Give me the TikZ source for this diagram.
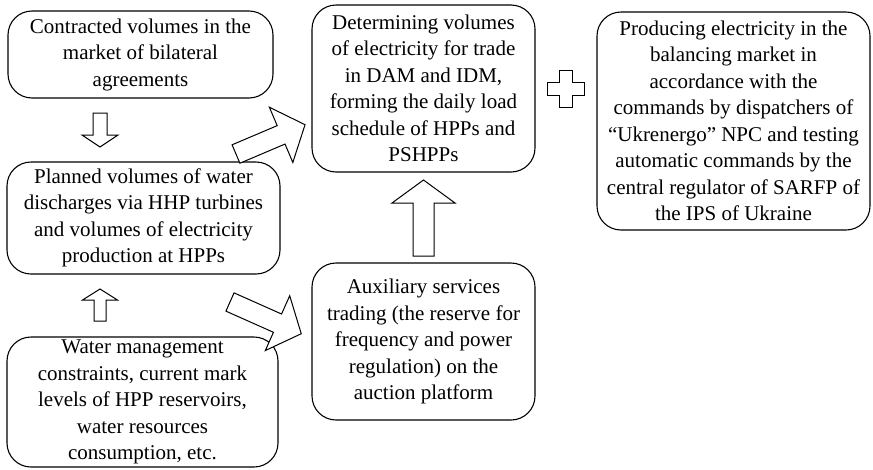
\documentclass[tikz,border=0pt]{standalone}
\usepackage{fontspec}
\setmainfont{Liberation Serif}
\newcommand\blockarr[6]{% tail, angle, length, shaft width, head width, head length
  \begin{scope}[shift={#1},rotate=#2]
    \draw[arrowline] (0,-#4/2) -- (#3-#6,-#4/2) -- (#3-#6,-#5/2) -- (#3,0)
      -- (#3-#6,#5/2) -- (#3-#6,#4/2) -- (0,#4/2) -- cycle;
  \end{scope}}
\begin{document}
\begin{tikzpicture}[x=1pt,y=-1pt,
  box/.style={draw,line width=1.1pt,rounded corners=24pt,align=center,
    font=\fontsize{21}{26.5}\selectfont,inner sep=0pt},
  arrowline/.style={line width=1pt,line join=miter,fill=white}]
\useasboundingbox (0,0) rectangle (873,469);
\node[box,minimum width=265pt,minimum height=87pt] (b1) at (140.5,54.5)
  {Contracted volumes in the\\market of bilateral\\agreements};
\node[box,minimum width=273pt,minimum height=112pt] (b2) at (143.5,218)
  {Planned volumes of water\\discharges via HHP turbines\\and volumes of electricity\\production at HPPs};
\node[box,minimum width=271pt,minimum height=130pt] (b3) at (142.5,402)
  {Water management\\constraints, current mark\\levels of HPP reservoirs,\\water resources\\consumption, etc.};
\node[box,minimum width=223pt,minimum height=167pt] (b4) at (423.5,88.5)
  {Determining volumes\\of electricity for trade\\in DAM and IDM,\\forming the daily load\\schedule of HPPs and\\PSHPPs};
\node[box,minimum width=223pt,minimum height=157pt] (b5) at (423.5,341.5)
  {Auxiliary services\\trading (the reserve for\\frequency and power\\regulation) on the\\auction platform};
\node[box,minimum width=273pt,minimum height=218pt] (b6) at (733.5,121)
  {Producing electricity in the\\balancing market in\\accordance with the\\commands by dispatchers of\\“Ukrenergo” NPC and testing\\automatic commands by the\\central regulator of SARFP of\\the IPS of Ukraine};
% block arrows
\blockarr{(100,113)}{-90}{34}{14}{36}{12}
\blockarr{(100,321)}{90}{32}{12}{35}{11}
\blockarr{(236,154)}{23}{75}{20}{60}{26}
\blockarr{(230,302)}{-24}{78}{20}{60}{26}
\blockarr{(423.5,256)}{90}{76}{21}{63}{23}
% plus sign
\coordinate (pc) at (565.5,88.5);
\draw[arrowline] ([shift={(-6.5,-18.5)}]pc) -- ([shift={(6.5,-18.5)}]pc)
  -- ([shift={(6.5,-6.5)}]pc) -- ([shift={(18.5,-6.5)}]pc)
  -- ([shift={(18.5,6.5)}]pc) -- ([shift={(6.5,6.5)}]pc)
  -- ([shift={(6.5,18.5)}]pc) -- ([shift={(-6.5,18.5)}]pc)
  -- ([shift={(-6.5,6.5)}]pc) -- ([shift={(-18.5,6.5)}]pc)
  -- ([shift={(-18.5,-6.5)}]pc) -- ([shift={(-6.5,-6.5)}]pc) -- cycle;
\end{tikzpicture}
\end{document}
